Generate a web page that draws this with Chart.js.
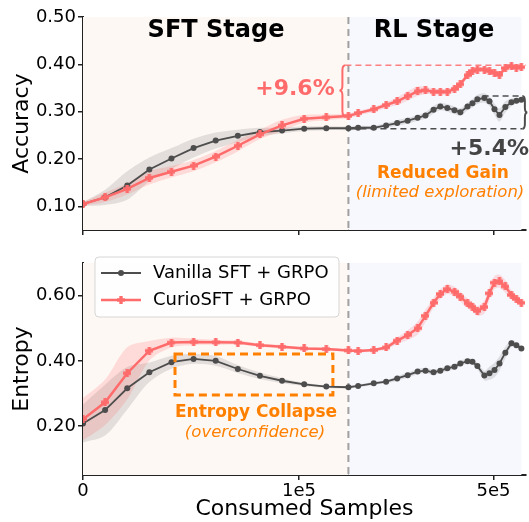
<!DOCTYPE html>
<html>
<head>
<meta charset="utf-8">
<title>CurioSFT vs Vanilla SFT</title>
<script src="https://cdn.jsdelivr.net/npm/chart.js@4.4.1/dist/chart.umd.min.js"></script>
<style>
  body { margin: 0; background: #fff; }
  #wrap { position: relative; width: 529px; height: 522px; }
  #wrap canvas { position: absolute; left: 0; top: 0; }
</style>
</head>
<body>
<div id="wrap">
  <canvas id="accChart" width="529" height="522"></canvas>
  <canvas id="entChart" width="529" height="522"></canvas>
</div>
<script>
// consumed samples at each logged step (13 SFT points, then RL points)
const samples = [0, 10240, 20480, 30720, 40960, 51200, 61440, 71680, 81920, 92160, 102400, 112640, 122880,
  135000, 157000, 177000, 197000, 218000, 240000, 259000, 280000, 299000, 320000, 343000, 363000,
  389000, 408000, 428000, 458000, 481000, 505000, 530000, 561000, 595000, 624000, 655000];
const sftEnd = 122880;
const xMaxSamples = 685000;
const xTickValues = [0, 100000, 500000];
const xTickLabels = ['0', '1e5', '5e5'];
const seriesNames = ['Vanilla SFT + GRPO', 'CurioSFT + GRPO'];

const accVanilla = [0.105, 0.119, 0.144, 0.178, 0.201, 0.223, 0.239, 0.249, 0.257, 0.260, 0.264, 0.265, 0.265,
  0.266, 0.266, 0.271, 0.276, 0.281, 0.287, 0.292, 0.304, 0.311, 0.308, 0.303, 0.299, 0.311, 0.318, 0.326,
  0.329, 0.322, 0.305, 0.293, 0.310, 0.320, 0.323, 0.325];
const accVanillaStd = [0.004, 0.016, 0.03, 0.025, 0.022, 0.02, 0.017, 0.013, 0.009, 0.006, 0.005, 0.004, 0.004,
  0.004, 0.004, 0.005, 0.006, 0.006, 0.006, 0.007, 0.008, 0.008, 0.008, 0.008, 0.008, 0.008, 0.009, 0.01,
  0.01, 0.01, 0.012, 0.014, 0.012, 0.008, 0.006, 0.005];
const accCurio = [0.105, 0.119, 0.137, 0.160, 0.173, 0.186, 0.205, 0.228, 0.252, 0.271, 0.285, 0.288, 0.291,
  0.297, 0.305, 0.314, 0.322, 0.333, 0.343, 0.345, 0.342, 0.342, 0.342, 0.348, 0.358, 0.377, 0.386, 0.389,
  0.389, 0.386, 0.382, 0.378, 0.392, 0.396, 0.393, 0.394];
const accCurioStd = [0.004, 0.01, 0.012, 0.014, 0.012, 0.012, 0.012, 0.012, 0.01, 0.012, 0.008, 0.006, 0.005,
  0.005, 0.005, 0.006, 0.008, 0.01, 0.01, 0.008, 0.006, 0.006, 0.006, 0.006, 0.006, 0.006, 0.006, 0.005,
  0.005, 0.005, 0.006, 0.006, 0.005, 0.005, 0.004, 0.004];

const entVanilla = [0.208, 0.249, 0.316, 0.365, 0.396, 0.406, 0.400, 0.375, 0.354, 0.339, 0.328, 0.321, 0.319,
  0.323, 0.331, 0.336, 0.346, 0.356, 0.367, 0.370, 0.365, 0.370, 0.377, 0.382, 0.392, 0.399, 0.397, 0.384,
  0.355, 0.362, 0.372, 0.392, 0.425, 0.454, 0.448, 0.438];
const entVanillaStd = [0.058, 0.078, 0.065, 0.03, 0.02, 0.015, 0.015, 0.012, 0.01, 0.008, 0.005, 0.004, 0.004,
  0.004, 0.005, 0.005, 0.007, 0.008, 0.008, 0.008, 0.008, 0.008, 0.008, 0.008, 0.008, 0.008, 0.008, 0.01,
  0.015, 0.02, 0.022, 0.022, 0.018, 0.01, 0.008, 0.006];
const entCurio = [0.221, 0.273, 0.362, 0.431, 0.456, 0.458, 0.457, 0.456, 0.448, 0.443, 0.438, 0.436, 0.432,
  0.430, 0.433, 0.441, 0.462, 0.479, 0.500, 0.538, 0.578, 0.605, 0.620, 0.612, 0.597, 0.576, 0.566, 0.553,
  0.565, 0.607, 0.640, 0.644, 0.628, 0.602, 0.590, 0.578];
const entCurioStd = [0.065, 0.07, 0.08, 0.03, 0.015, 0.01, 0.008, 0.006, 0.005, 0.005, 0.004, 0.004, 0.004,
  0.004, 0.004, 0.006, 0.01, 0.015, 0.02, 0.02, 0.015, 0.015, 0.015, 0.015, 0.015, 0.015, 0.015, 0.015,
  0.02, 0.02, 0.02, 0.02, 0.02, 0.015, 0.012, 0.01];

const accTicks = [0.10, 0.20, 0.30, 0.40, 0.50];
const entTicks = [0.20, 0.40, 0.60];

const RED = '#ff6b6b';
const GRAY = '#4d4d4d';
const ORANGE = '#ff8000';
const FONT = "'DejaVu Sans', sans-serif";

Chart.defaults.font.family = FONT;
Chart.defaults.color = '#000';

// x axis: linear through the SFT stage, log-spaced in the RL stage
function pos(s) {
  return s <= sftEnd ? s : sftEnd + 110185 * Math.log10(s / sftEnd);
}

// filled "plus" marker like matplotlib's 'P'
function plusMarker(color, size) {
  const c = document.createElement('canvas');
  c.width = c.height = size;
  const g = c.getContext('2d');
  g.fillStyle = color;
  const t = size * 0.42;
  g.fillRect((size - t) / 2, 0, t, size);
  g.fillRect(0, (size - t) / 2, size, t);
  return c;
}
const plus = plusMarker(RED, 8);

function pts(vals, std, sign) {
  return samples.map((s, i) => ({ x: pos(s), y: vals[i] + (std ? sign * std[i] : 0) }));
}

function makeDatasets(van, vanStd, cur, curStd) {
  return [
    { label: seriesNames[0], data: pts(van), borderColor: GRAY, backgroundColor: GRAY, borderWidth: 1.8,
      pointRadius: 3, pointBorderWidth: 0, pointStyle: 'circle', order: 1 },
    { label: seriesNames[1], data: pts(cur), borderColor: RED, backgroundColor: RED, borderWidth: 2.5,
      pointStyle: plus, order: 0 },
    { data: pts(van, vanStd, 1), borderWidth: 0, pointRadius: 0, fill: false, tension: 0.3, order: 5 },
    { data: pts(van, vanStd, -1), borderWidth: 0, pointRadius: 0, tension: 0.3, order: 5,
      fill: { target: 2 }, backgroundColor: 'rgba(120,120,120,0.2)' },
    { data: pts(cur, curStd, 1), borderWidth: 0, pointRadius: 0, fill: false, tension: 0.3, order: 4 },
    { data: pts(cur, curStd, -1), borderWidth: 0, pointRadius: 0, tension: 0.3, order: 4,
      fill: { target: 4 }, backgroundColor: 'rgba(255,107,107,0.2)' }
  ];
}

function axisStyle() {
  return {
    grid: { display: true, drawOnChartArea: false, drawTicks: true, tickLength: 5, color: '#222', lineWidth: 1.5 },
    border: { display: true, color: '#222', width: 2 }
  };
}

function makeOptions(cfg) {
  return {
    responsive: false,
    animation: false,
    events: [],
    layout: { autoPadding: false, padding: { top: cfg.top, right: 3, bottom: 0, left: 0 } },
    plugins: { legend: { display: false }, tooltip: { enabled: false } },
    scales: {
      x: Object.assign(axisStyle(), {
        type: 'linear',
        min: 0,
        max: pos(xMaxSamples),
        afterBuildTicks: s => { s.ticks = xTickValues.map(v => ({ value: pos(v) })); },
        afterFit: s => { s.height = cfg.xHeight; },
        ticks: { callback: (v, i) => xTickLabels[i], color: cfg.xLabels ? '#000' : 'rgba(0,0,0,0)',
          font: { size: 18 }, padding: 1, maxRotation: 0, autoSkip: false },
        title: { display: cfg.xLabels, text: 'Consumed Samples', font: { size: 22 }, padding: 0 }
      }),
      y: Object.assign(axisStyle(), {
        min: cfg.yMin,
        max: cfg.yMax,
        afterBuildTicks: s => { s.ticks = cfg.yTicks.map(v => ({ value: v })); },
        afterFit: s => { s.width = 83; },
        ticks: { callback: v => v.toFixed(2), font: { size: 18 }, padding: 2 },
        title: { display: true, text: cfg.yTitle, font: { size: 22 }, padding: { top: 9, bottom: 0 } }
      })
    }
  };
}

function text(ctx, str, x, y, font, color, align) {
  ctx.font = font;
  ctx.fillStyle = color;
  ctx.textAlign = align || 'center';
  ctx.textBaseline = 'middle';
  ctx.fillText(str, x, y);
}

function hline(ctx, x1, x2, y) {
  ctx.beginPath(); ctx.moveTo(x1, y); ctx.lineTo(x2, y); ctx.stroke();
}

// curly brace from y1 to y2 standing at x, tip at x - w
function brace(ctx, x, y1, y2, w) {
  const ym = (y1 + y2) / 2, r = 5, xm = x - w / 2;
  ctx.beginPath();
  ctx.moveTo(x, y1);
  ctx.quadraticCurveTo(xm, y1, xm, y1 + r);
  ctx.lineTo(xm, ym - r);
  ctx.quadraticCurveTo(xm, ym, x - w, ym);
  ctx.quadraticCurveTo(xm, ym, xm, ym + r);
  ctx.lineTo(xm, y2 - r);
  ctx.quadraticCurveTo(xm, y2, x, y2);
  ctx.stroke();
}

const stagePlugin = {
  id: 'stages',
  beforeDatasetsDraw(chart) {
    const { ctx, chartArea: a, scales: { x } } = chart;
    const xs = x.getPixelForValue(pos(sftEnd));
    const xe = x.getPixelForValue(pos(samples[samples.length - 1]));
    ctx.save();
    ctx.fillStyle = '#fef8f4';
    ctx.fillRect(a.left, a.top, xs - a.left, a.bottom - a.top);
    ctx.fillStyle = '#f7f8fe';
    ctx.fillRect(xs, a.top, xe - xs, a.bottom - a.top);
    ctx.strokeStyle = '#a0a0a0';
    ctx.lineWidth = 2;
    ctx.setLineDash([7, 5]);
    ctx.beginPath(); ctx.moveTo(xs, a.top); ctx.lineTo(xs, a.bottom); ctx.stroke();
    ctx.restore();
  }
};

const accNotes = {
  id: 'accNotes',
  afterDatasetsDraw(chart) {
    const { ctx, chartArea: a, scales: { x, y } } = chart;
    const px = s => x.getPixelForValue(pos(s));
    const py = v => y.getPixelForValue(v);
    const xs = px(sftEnd);
    ctx.save();
    // CurioSFT gain bracket
    const rTop = py(0.398), rBot = py(accCurio[12]);
    ctx.strokeStyle = 'rgba(255,107,107,0.85)';
    ctx.lineWidth = 1.5;
    ctx.setLineDash([6, 4]);
    hline(ctx, xs - 3, a.right, rTop);
    ctx.setLineDash([]);
    ctx.strokeStyle = RED;
    ctx.lineWidth = 2;
    brace(ctx, xs - 3, rTop, rBot, 6);
    // Vanilla gain bracket
    const gTop = py(0.333), gBot = py(0.264), gRight = px(samples[samples.length - 1]) + 1;
    ctx.strokeStyle = GRAY;
    ctx.lineWidth = 1.5;
    ctx.setLineDash([6, 4]);
    hline(ctx, px(450000), gRight, gTop);
    hline(ctx, xs + 2, gRight, gBot);
    ctx.setLineDash([]);
    ctx.lineWidth = 2;
    brace(ctx, gRight, gTop, gBot, -5);

    text(ctx, 'SFT Stage', 216, 31, 'bold 24px ' + FONT, '#000');
    text(ctx, 'RL Stage', 434, 31, 'bold 24px ' + FONT, '#000');
    text(ctx, '+9.6%', 295, 89, 'bold 22px ' + FONT, RED);
    text(ctx, '+5.4%', 529, 149, 'bold 22px ' + FONT, '#444', 'right');
    text(ctx, 'Reduced Gain', 443, 174, 'bold 17px ' + FONT, ORANGE);
    text(ctx, '(limited exploration)', 440, 193, 'oblique 16.5px ' + FONT, ORANGE);
    ctx.restore();
  }
};

const entNotes = {
  id: 'entNotes',
  afterDatasetsDraw(chart) {
    const { ctx, scales: { x, y } } = chart;
    const px = s => x.getPixelForValue(pos(s));
    const py = v => y.getPixelForValue(v);
    ctx.save();
    // entropy collapse box
    ctx.strokeStyle = ORANGE;
    ctx.lineWidth = 3;
    ctx.setLineDash([8, 5]);
    const bx1 = px(42600), bx2 = px(115700), by1 = py(0.421), by2 = py(0.295);
    ctx.strokeRect(bx1, by1, bx2 - bx1, by2 - by1);
    ctx.setLineDash([]);
    text(ctx, 'Entropy Collapse', 256, 413, 'bold 17px ' + FONT, ORANGE);
    text(ctx, '(overconfidence)', 255, 433, 'oblique 16.5px ' + FONT, ORANGE);

    // legend
    const lx = 95, ly = 257, lw = 244, lh = 60;
    ctx.fillStyle = 'rgba(255,255,255,0.85)';
    ctx.strokeStyle = '#d6d6d6';
    ctx.lineWidth = 1;
    ctx.beginPath();
    ctx.roundRect(lx, ly, lw, lh, 4);
    ctx.fill();
    ctx.stroke();
    [0, 1].forEach(i => {
      const ds = chart.data.datasets[i];
      const yy = 273 + i * 27;
      ctx.strokeStyle = ds.borderColor;
      ctx.lineWidth = ds.borderWidth;
      hline(ctx, 101, 141, yy);
      if (i === 0) {
        ctx.fillStyle = GRAY;
        ctx.beginPath(); ctx.arc(121, yy, 3, 0, Math.PI * 2); ctx.fill();
      } else {
        ctx.drawImage(plus, 117, yy - 4);
      }
      text(ctx, ds.label, 153, yy, '18px ' + FONT, '#000', 'left');
    });
    ctx.restore();
  }
};

new Chart(document.getElementById('accChart'), {
  type: 'line',
  data: { datasets: makeDatasets(accVanilla, accVanillaStd, accCurio, accCurioStd) },
  options: makeOptions({ top: 17, xHeight: 292, xLabels: false, yMin: 0.05, yMax: 0.50,
    yTicks: accTicks, yTitle: 'Accuracy' }),
  plugins: [stagePlugin, accNotes]
});

new Chart(document.getElementById('entChart'), {
  type: 'line',
  data: { datasets: makeDatasets(entVanilla, entVanillaStd, entCurio, entCurioStd) },
  options: makeOptions({ top: 263, xHeight: 47, xLabels: true, yMin: 0.05, yMax: 0.70,
    yTicks: entTicks, yTitle: 'Entropy' }),
  plugins: [stagePlugin, entNotes]
});
</script>
</body>
</html>
